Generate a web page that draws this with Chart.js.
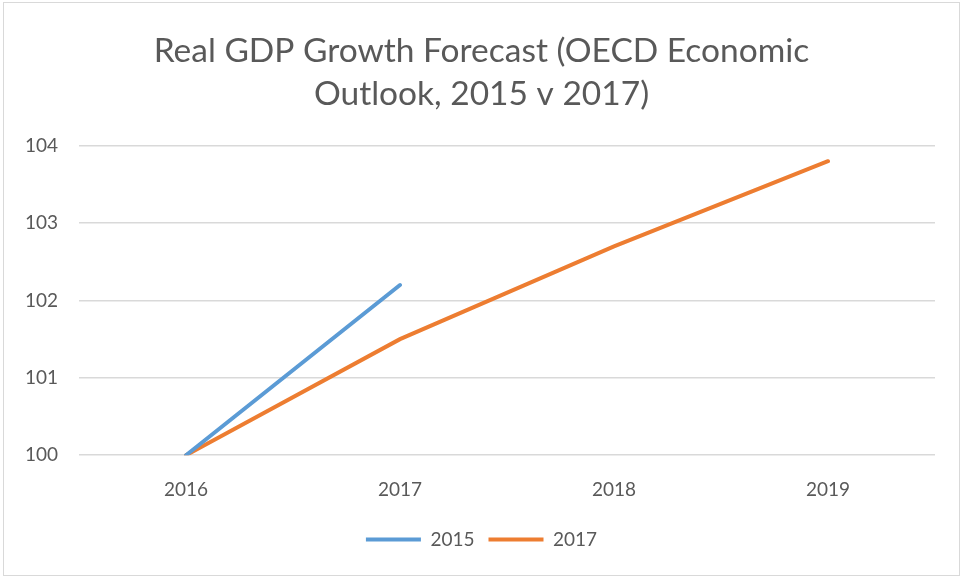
<!DOCTYPE html>
<html>
<head>
<meta charset="utf-8">
<script src="https://cdn.jsdelivr.net/npm/chart.js@4"></script>
<style>
  html, body { margin: 0; padding: 0; background: #fff; }
  #wrap { position: relative; width: 963px; height: 577px; }
  #frame { position: absolute; left: 3px; top: 2px; width: 955px; height: 572px;
           border: 1px solid #d9d9d9; pointer-events: none; }
</style>
</head>
<body>
<div id="wrap">
  <canvas id="mycanvas" width="963" height="577"></canvas>
  <div id="frame"></div>
</div>
<script>
// OECD real GDP forecasts, index 2016 = 100
var years = ['2016', '2017', '2018', '2019'];
var outlook2015 = [100, 102.2, null, null];
var outlook2017 = [100, 101.5, 102.7, 103.8];
var yTicks = [100, 101, 102, 103, 104];

var grey = '#595959';
var font = 'Lato, "Open Sans", sans-serif';

var chartdata = {
  labels: years,
  datasets: [
    {
      label: '2015',
      data: outlook2015,
      borderColor: '#5B9BD5',
      backgroundColor: '#5B9BD5',
      borderWidth: 4,
      borderCapStyle: 'round',
      pointRadius: 0,
      tension: 0
    },
    {
      label: '2017',
      data: outlook2017,
      borderColor: '#ED7D31',
      backgroundColor: '#ED7D31',
      borderWidth: 4,
      borderCapStyle: 'round',
      pointRadius: 0,
      tension: 0
    }
  ]
};

var ctx = document.getElementById('mycanvas');
var lineGraph = new Chart(ctx, {
  type: 'line',
  data: chartdata,
  options: {
    responsive: false,
    animation: false,
    layout: { padding: { left: 0, right: 0, bottom: 18 } },
    plugins: {
      title: {
        display: true,
        text: ['Real GDP Growth Forecast (OECD Economic', 'Outlook, 2015 v 2017)'],
        color: grey,
        font: { family: font, size: 33.5, weight: 'normal', lineHeight: 1.28 },
        padding: { top: 30, bottom: 30 }
      },
      legend: {
        position: 'bottom',
        labels: {
          color: grey,
          font: { family: font, size: 19 },
          usePointStyle: true,
          pointStyle: 'line',
          pointStyleWidth: 55,
          padding: 14
        }
      },
      tooltip: { enabled: false }
    },
    scales: {
      x: {
        offset: true,
        grid: { display: false },
        border: { display: false },
        ticks: { color: grey, font: { family: font, size: 19 }, padding: 15 }
      },
      y: {
        min: 100,
        max: 104,
        afterBuildTicks: function(scale) {
          scale.ticks = yTicks.map(function(v) { return { value: v }; });
        },
        afterFit: function(scale) { scale.width = 79; },
        grid: { color: '#d9d9d9', lineWidth: 1.5, drawTicks: false },
        border: { display: false },
        ticks: { color: grey, font: { family: font, size: 19 }, padding: 21 }
      },
      // empty right-hand margin so the title stays centred on the canvas
      yRight: {
        position: 'right',
        min: 100,
        max: 104,
        afterFit: function(scale) { scale.width = 28; },
        grid: { display: false },
        border: { display: false },
        ticks: { display: false }
      }
    }
  }
});
</script>
</body>
</html>
